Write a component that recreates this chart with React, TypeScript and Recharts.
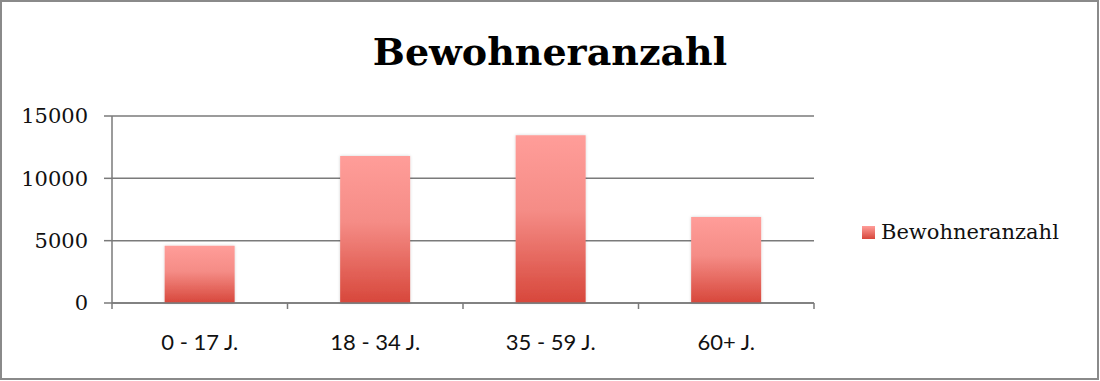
import React from "react";
import { BarChart, Bar, XAxis, YAxis, CartesianGrid } from "recharts";

const categories = ["0 - 17 J.", "18 - 34 J.", "35 - 59 J.", "60+ J."];
const residents = [4600, 11800, 13450, 6900];
const yTicks = [0, 5000, 10000, 15000];
const seriesName = "Bewohneranzahl";
const title = "Bewohneranzahl";

const data = categories.map((c, i) => ({ category: c, value: residents[i] }));

const FONT = "'DejaVu Serif', 'Liberation Serif', serif";
const SANS = "Lato, 'Open Sans', sans-serif";
const AXIS = "#7a7a7a";

const CategoryTick = (props: any) => {
  const { x, y, payload, index, visibleTicksCount } = props;
  const half = payload && typeof payload.offset === "number" ? payload.offset : 0;
  const isLast = index === (visibleTicksCount ?? categories.length) - 1;
  return (
    <g>
      {half > 0 && (
        <line x1={x - half} x2={x - half} y1={y} y2={y + 6} stroke={AXIS} strokeWidth={1.5} />
      )}
      {half > 0 && isLast && (
        <line x1={x + half} x2={x + half} y1={y} y2={y + 6} stroke={AXIS} strokeWidth={1.5} />
      )}
      <text
        x={x}
        y={y + 31}
        dy="0.71em"
        textAnchor="middle"
        fill="#111"
        fontSize={22}
        fontFamily={SANS}
      >
        {payload.value}
      </text>
    </g>
  );
};

export default function App() {
  return (
    <div
      style={{
        position: "absolute",
        left: 0,
        top: 0,
        width: 1099,
        height: 380,
        background: "#fff",
        boxSizing: "border-box",
        border: "2px solid #8a8a8a",
        overflow: "hidden",
      }}
    >
      <div
        style={{
          position: "absolute",
          left: -2,
          top: 27,
          width: 1100,
          textAlign: "center",
          fontFamily: FONT,
          fontWeight: "bold",
          fontSize: 38,
          lineHeight: "46px",
          color: "#000",
        }}
      >
        {title}
      </div>
      <div style={{ position: "absolute", left: -2, top: -2 }}>
        <BarChart
          width={1100}
          height={381}
          data={data}
          margin={{ top: 116, right: 286, bottom: 38, left: 0 }}
          barCategoryGap="30%"
        >
          <defs>
            <linearGradient id="barGrad" x1="0" y1="0" x2="0" y2="1">
              <stop offset="0%" stopColor="#ff9d99" />
              <stop offset="45%" stopColor="#f58c86" />
              <stop offset="100%" stopColor="#d7473b" />
            </linearGradient>
            <filter id="barShadow" x="-10%" y="-10%" width="120%" height="120%">
              <feDropShadow dx="0" dy="0" stdDeviation="1.5" floodColor="#000" floodOpacity="0.18" />
            </filter>
          </defs>
          <CartesianGrid vertical={false} stroke={AXIS} strokeWidth={1.5} />
          <XAxis
            dataKey="category"
            tickLine={false}
            axisLine={{ stroke: AXIS, strokeWidth: 1.5 }}
            tickSize={0}
            tickMargin={0}
            height={40}
            tick={<CategoryTick />}
            interval={0}
          />
          <YAxis
            domain={[0, 15000]}
            ticks={yTicks}
            width={112}
            tickSize={8}
            tickMargin={16}
            axisLine={{ stroke: AXIS, strokeWidth: 1.5 }}
            tickLine={{ stroke: AXIS, strokeWidth: 1.5 }}
            tick={{ fill: "#111", fontSize: 21, fontFamily: FONT }}
          />
          <Bar
            dataKey="value"
            name={seriesName}
            fill="url(#barGrad)"
            filter="url(#barShadow)"
            isAnimationActive={false}
          />
        </BarChart>
      </div>
      <div
        style={{
          position: "absolute",
          left: 860,
          top: 218,
          display: "flex",
          alignItems: "center",
          fontFamily: FONT,
          fontSize: 21,
          color: "#111",
          whiteSpace: "nowrap",
        }}
      >
        <svg width={13} height={13} style={{ marginRight: 6 }}>
          <defs>
            <linearGradient id="legGrad" x1="0" y1="0" x2="0" y2="1">
              <stop offset="0%" stopColor="#ff9d99" />
              <stop offset="100%" stopColor="#d7473b" />
            </linearGradient>
          </defs>
          <rect x={0} y={0} width={13} height={13} fill="url(#legGrad)" />
        </svg>
        <span>{seriesName}</span>
      </div>
    </div>
  );
}
